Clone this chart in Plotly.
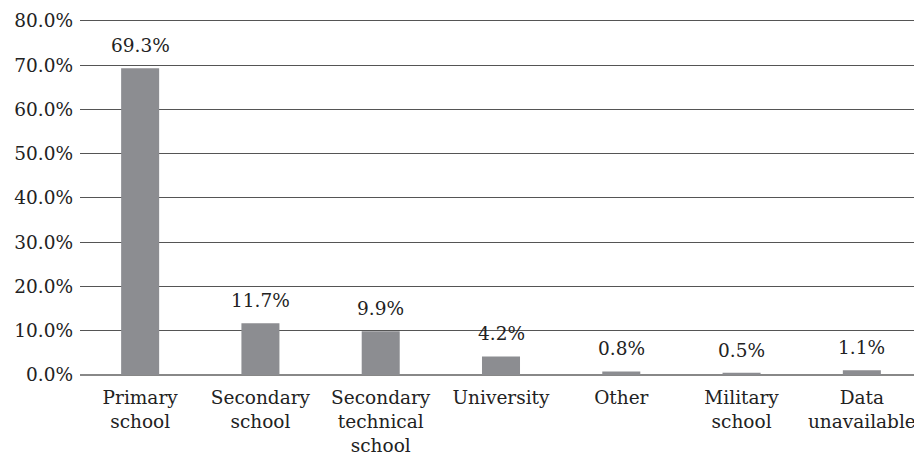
import plotly.graph_objects as go

categories = ["Primary<br>school", "Secondary<br>school", "Secondary<br>technical<br>school",
              "University", "Other", "Military<br>school", "Data<br>unavailable"]
values = [69.3, 11.7, 9.9, 4.2, 0.8, 0.5, 1.1]
labels = ["69.3%", "11.7%", "9.9%", "4.2%", "0.8%", "0.5%", "1.1%"]
tick_vals = [0, 10, 20, 30, 40, 50, 60, 70, 80]
tick_text = ["0.0%", "10.0%", "20.0%", "30.0%", "40.0%", "50.0%", "60.0%", "70.0%", "80.0%"]

font_family = "DejaVu Serif"
fsize = 18.5

fig = go.Figure(go.Bar(
    x=categories, y=values,
    marker=dict(color="#8c8d91", line=dict(width=0)),
    cliponaxis=False,
))
for c, v, t in zip(categories, values, labels):
    fig.add_annotation(x=c, y=v, text=t, showarrow=False, yanchor="bottom",
                       yshift=10, font=dict(family=font_family, size=fsize, color="#222"))

fig.update_layout(
    width=922, height=456,
    margin=dict(l=72, r=8, t=4, b=89, autoexpand=False),
    paper_bgcolor="white", plot_bgcolor="white",
    bargap=0.684,
    showlegend=False,
    font=dict(family=font_family, size=fsize, color="#222"),
)
fig.update_yaxes(range=[0, 82], tickvals=tick_vals, ticktext=tick_text,
                 showgrid=True, gridcolor="#555", gridwidth=1,
                 zeroline=True, zerolinecolor="#888", zerolinewidth=2,
                 ticks="", ticklen=0, ticklabelstandoff=6, automargin=False,
                 tickfont=dict(family=font_family, size=fsize, color="#222"))
fig.update_xaxes(showgrid=False, ticks="", tickangle=0, automargin=False,
                 ticklabelstandoff=9,
                 tickfont=dict(family=font_family, size=fsize, color="#222"))
fig.write_html("out.html")
